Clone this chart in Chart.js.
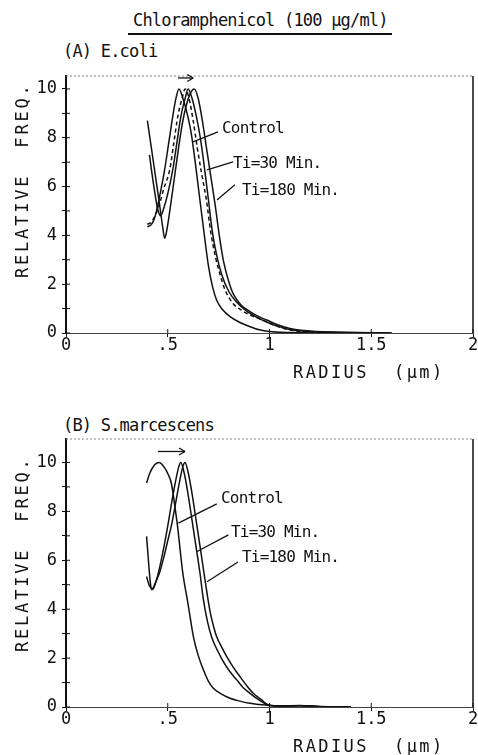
<!DOCTYPE html>
<html>
<head>
<meta charset="utf-8">
<script src="https://cdn.jsdelivr.net/npm/chart.js@4.4.1/dist/chart.umd.min.js"></script>
<style>
  html, body { margin: 0; padding: 0; background: #fff; }
  body { width: 478px; height: 755px; position: relative; overflow: hidden;
         font-family: "DejaVu Sans Mono", monospace; color: #111; }
  .txt { position: absolute; white-space: pre; font-size: 17px; line-height: 20px; letter-spacing: -0.8px; }
  .lbl { position: absolute; white-space: pre; font-size: 16px; line-height: 18px; letter-spacing: -0.8px; }
  .xtitle { position: absolute; white-space: pre; font-size: 17px; line-height: 20px; letter-spacing: 2.4px; }
  .ytitle { position: absolute; white-space: pre; font-size: 17px; line-height: 20px; letter-spacing: 2.8px;
            transform: rotate(-90deg); transform-origin: 0 0; }
  .rule { position: absolute; height: 2px; background: #111; }
  .panel { position: absolute; left: 0; }
</style>
</head>
<body>
<div class="txt" style="left:133px; top:10px;">Chloramphenicol (100 μg/ml)</div>
<div class="rule" style="left:128px; top:33px; width:264px;"></div>

<!-- panel A -->
<div class="txt" style="left:63px; top:41px;">(A) E.coli</div>
<div class="panel" style="top:60px;"><canvas id="chartA" width="478" height="320"></canvas></div>
<div class="ytitle" style="left:12px; top:278px;">RELATIVE  FREQ.</div>
<div class="xtitle" style="left:293px; top:362px;">RADIUS  (μm)</div>
<div class="lbl" style="left:222px; top:119px;">Control</div>
<div class="lbl" style="left:233px; top:154px;">Ti=30 Min.</div>
<div class="lbl" style="left:242px; top:181px;">Ti=180 Min.</div>

<!-- panel B -->
<div class="txt" style="left:63px; top:415px;">(B) S.marcescens</div>
<div class="panel" style="top:420px;"><canvas id="chartB" width="478" height="335"></canvas></div>
<div class="ytitle" style="left:12px; top:652px;">RELATIVE  FREQ.</div>
<div class="xtitle" style="left:293px; top:736px;">RADIUS  (μm)</div>
<div class="lbl" style="left:221px; top:489px;">Control</div>
<div class="lbl" style="left:231px; top:523px;">Ti=30 Min.</div>
<div class="lbl" style="left:242px; top:548px;">Ti=180 Min.</div>

<script>
// --- tick labels ---
const xTicks = [0, 0.5, 1, 1.5, 2];
const xTickLabels = ["0", ".5", "1", "1.5", "2"];
const yTicks = [0, 1, 2, 3, 4, 5, 6, 7, 8, 9, 10];

// --- (A) E.coli : radius (um) vs relative freq ---
const ctrlAx = [0.40, 0.42, 0.435, 0.45, 0.465, 0.485, 0.505, 0.525, 0.54, 0.555, 0.575, 0.595, 0.615, 0.635, 0.658, 0.68, 0.70, 0.72, 0.74, 0.77, 0.806, 0.85, 0.904, 0.95, 1.0, 1.1, 1.3];
const ctrlAy = [4.35, 4.45, 4.7, 5.2, 5.8, 6.7, 7.8, 8.9, 9.6, 10, 9.6, 9.0, 8.2, 7.0, 5.45, 4.0, 2.75, 1.9, 1.35, 0.95, 0.67, 0.45, 0.26, 0.13, 0.06, 0.02, 0];

const dashAx = [0.40, 0.42, 0.44, 0.46, 0.48, 0.51, 0.53, 0.55, 0.57, 0.585, 0.605, 0.625, 0.645, 0.665, 0.69, 0.71, 0.735, 0.757, 0.78, 0.822, 0.86, 0.904, 0.95, 0.986, 1.03, 1.068, 1.15, 1.3, 1.5];
const dashAy = [4.45, 4.55, 4.85, 5.3, 5.9, 6.7, 7.8, 8.9, 9.6, 10, 9.6, 8.7, 7.6, 6.6, 5.45, 4.2, 3.1, 2.4, 1.8, 1.2, 0.95, 0.74, 0.58, 0.46, 0.3, 0.19, 0.06, 0.02, 0];

const t30Ax = [0.41, 0.43, 0.45, 0.465, 0.48, 0.50, 0.525, 0.545, 0.565, 0.585, 0.60, 0.62, 0.64, 0.66, 0.68, 0.70, 0.72, 0.74, 0.765, 0.80, 0.84, 0.88, 0.92, 0.96, 1.0, 1.05, 1.1, 1.2, 1.4, 1.6];
const t30Ay = [7.3, 6.1, 5.1, 4.8, 5.1, 5.7, 6.7, 7.8, 8.9, 9.6, 10, 9.6, 8.9, 8.0, 6.8, 5.45, 4.1, 3.2, 2.4, 1.7, 1.25, 0.95, 0.72, 0.55, 0.4, 0.25, 0.14, 0.05, 0.02, 0];

const t180Ax = [0.40, 0.42, 0.44, 0.46, 0.475, 0.485, 0.495, 0.51, 0.53, 0.55, 0.57, 0.59, 0.61, 0.63, 0.65, 0.67, 0.69, 0.71, 0.732, 0.755, 0.775, 0.80, 0.822, 0.86, 0.904, 0.95, 0.986, 1.04, 1.1, 1.2, 1.4, 1.6];
const t180Ay = [8.7, 7.55, 6.4, 5.25, 4.35, 3.88, 4.2, 5.0, 6.2, 7.4, 8.5, 9.3, 9.8, 10, 9.6, 8.7, 7.6, 6.5, 5.3, 3.9, 2.9, 2.1, 1.6, 1.15, 0.88, 0.66, 0.53, 0.34, 0.19, 0.08, 0.02, 0];

// --- (B) S.marcescens ---
const ctrlBx = [0.396, 0.412, 0.437, 0.459, 0.478, 0.503, 0.519, 0.535, 0.548, 0.56, 0.572, 0.60, 0.626, 0.65, 0.675, 0.70, 0.724, 0.76, 0.806, 0.85, 0.904, 0.95, 1.0, 1.05, 1.15, 1.25, 1.4];
const ctrlBy = [9.16, 9.57, 9.92, 10, 9.86, 9.5, 9.1, 8.2, 7.4, 6.5, 5.6, 4.2, 2.88, 2.1, 1.52, 1.05, 0.77, 0.55, 0.36, 0.25, 0.15, 0.1, 0.06, 0.04, 0.06, 0.02, 0];

const t30Bx = [0.396, 0.405, 0.413, 0.42, 0.43, 0.445, 0.46, 0.48, 0.50, 0.52, 0.54, 0.555, 0.564, 0.58, 0.60, 0.62, 0.64, 0.658, 0.675, 0.695, 0.716, 0.745, 0.773, 0.805, 0.839, 0.87, 0.904, 0.95, 0.994, 1.05, 1.15, 1.25, 1.4];
const t30By = [6.98, 6.0, 5.2, 4.8, 4.85, 5.2, 5.7, 6.5, 7.4, 8.4, 9.3, 9.85, 10, 9.6, 8.7, 7.6, 6.5, 5.5, 4.4, 3.5, 2.85, 2.3, 1.86, 1.45, 1.11, 0.8, 0.56, 0.28, 0.08, 0.04, 0.05, 0.01, 0];

const t180Bx = [0.396, 0.41, 0.425, 0.44, 0.46, 0.48, 0.50, 0.52, 0.54, 0.56, 0.575, 0.585, 0.60, 0.62, 0.64, 0.66, 0.683, 0.708, 0.725, 0.74, 0.765, 0.79, 0.82, 0.855, 0.89, 0.92, 0.96, 0.994, 1.05, 1.15, 1.25, 1.4];
const t180By = [5.34, 4.95, 4.85, 5.1, 5.5, 6.1, 6.8, 7.5, 8.4, 9.3, 9.85, 10, 9.6, 8.7, 7.6, 6.5, 5.2, 3.9, 3.3, 2.88, 2.45, 2.06, 1.65, 1.24, 0.85, 0.56, 0.3, 0.08, 0.04, 0.05, 0.01, 0];

// leader lines [x1, y1, x2, y2] and shift arrows, in data units
const leadersA = [[0.747, 8.24, 0.624, 7.83], [0.821, 7.01, 0.693, 6.68], [0.83, 6.07, 0.742, 5.45]];
const leadersB = [[0.741, 8.31, 0.552, 7.52], [0.798, 7.04, 0.642, 6.35], [0.845, 5.93, 0.693, 5.12]];
const arrowA = [0.55, 10.45, 0.625, 10.45];
const arrowB = [0.452, 10.45, 0.585, 10.45];

const INK = "#111";
const FONT = { family: "'DejaVu Sans Mono', monospace", size: 17 };

function pts(xs, ys) {
  return xs.map((x, i) => ({ x, y: ys[i] }));
}

function curve(label, xs, ys, dash) {
  return {
    label,
    data: pts(xs, ys),
    borderColor: INK,
    borderWidth: 1.5,
    borderDash: dash || [],
    pointRadius: 0,
    cubicInterpolationMode: "monotone",
    fill: false
  };
}

function seg(ctx, x1, y1, x2, y2) {
  ctx.beginPath();
  ctx.moveTo(x1, y1);
  ctx.lineTo(x2, y2);
  ctx.stroke();
}

// frame, inner tick halves, leaders and the shift arrow
const extras = {
  id: "extras",
  afterDraw(chart, args, opts) {
    const { ctx, chartArea: a, scales: { x, y } } = chart;
    ctx.save();
    ctx.lineWidth = 1;
    ctx.strokeStyle = "#888";
    ctx.setLineDash([2, 2]);
    seg(ctx, a.left, a.top, a.right, a.top);
    ctx.setLineDash([]);
    ctx.strokeStyle = INK;
    ctx.lineWidth = 1.5;
    seg(ctx, a.right, a.top, a.right, a.bottom);

    ctx.lineWidth = 1;
    y.ticks.forEach((t) => {
      const py = y.getPixelForValue(t.value);
      seg(ctx, a.left, py, a.left + 4, py);
    });
    x.ticks.forEach((t) => {
      const px = x.getPixelForValue(t.value);
      seg(ctx, px, a.bottom, px, a.bottom - 4);
    });

    ctx.lineWidth = 1.3;
    (opts.leaders || []).forEach(([x1, y1, x2, y2]) => {
      seg(ctx, x.getPixelForValue(x1), y.getPixelForValue(y1), x.getPixelForValue(x2), y.getPixelForValue(y2));
    });

    if (opts.arrow) {
      const [x1, y1, x2, y2] = opts.arrow;
      const ax = x.getPixelForValue(x1), ay = y.getPixelForValue(y1);
      const bx = x.getPixelForValue(x2), by = y.getPixelForValue(y2);
      ctx.lineWidth = 1.3;
      seg(ctx, ax, ay, bx, by);
      seg(ctx, bx, by, bx - 6, by - 3.5);
      seg(ctx, bx, by, bx - 6, by + 3.5);
    }
    ctx.restore();
  }
};

function makeChart(id, datasets, yMax, padTop, xHeight, leaders, arrow) {
  return new Chart(document.getElementById(id), {
    type: "line",
    data: { datasets },
    plugins: [extras],
    options: {
      responsive: false,
      animation: false,
      devicePixelRatio: 1,
      layout: { padding: { top: padTop, right: 5, left: 0, bottom: 0 } },
      scales: {
        x: {
          type: "linear",
          min: 0,
          max: 2,
          afterBuildTicks: (s) => { s.ticks = xTicks.map((v) => ({ value: v })); },
          afterFit: (s) => { s.height = xHeight; },
          ticks: {
            autoSkip: false,
            maxRotation: 0,
            padding: -2,
            color: INK,
            font: FONT,
            callback: (v, i) => xTickLabels[i]
          },
          grid: { drawOnChartArea: false, drawTicks: true, tickLength: 4, color: INK, lineWidth: 1 },
          border: { display: true, color: "#444", width: 1, dash: [2, 2] }
        },
        y: {
          min: 0,
          max: yMax,
          afterBuildTicks: (s) => { s.ticks = yTicks.map((v) => ({ value: v })); },
          afterFit: (s) => { s.width = 66; },
          ticks: {
            autoSkip: false,
            padding: 5,
            color: INK,
            font: FONT,
            callback: (v) => (v % 2 === 0 ? String(v) : "")
          },
          grid: { drawOnChartArea: false, drawTicks: true, tickLength: 4, color: INK, lineWidth: 1 },
          border: { display: true, color: INK, width: 2 }
        }
      },
      plugins: {
        legend: { display: false },
        tooltip: { enabled: false },
        extras: { leaders, arrow }
      }
    }
  });
}

makeChart("chartA", [
  curve("Control", ctrlAx, ctrlAy),
  curve("dashed", dashAx, dashAy, [4, 3]),
  curve("Ti=30 Min.", t30Ax, t30Ay),
  curve("Ti=180 Min.", t180Ax, t180Ay)
], 10.53, 16, 47, leadersA, arrowA);

makeChart("chartB", [
  curve("Control", ctrlBx, ctrlBy),
  curve("Ti=30 Min.", t30Bx, t30By),
  curve("Ti=180 Min.", t180Bx, t180By)
], 10.96, 19, 48, leadersB, arrowB);
</script>
</body>
</html>
